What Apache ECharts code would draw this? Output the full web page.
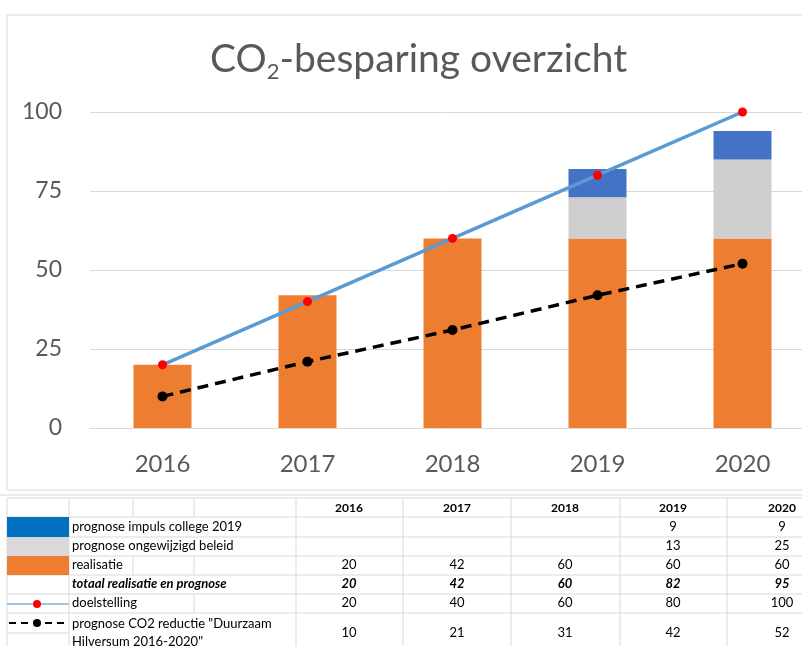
<!DOCTYPE html>
<html>
<head>
<meta charset="utf-8">
<script src="https://cdn.jsdelivr.net/npm/echarts@6/dist/echarts.min.js"></script>
<style>
    html, body { margin: 0; padding: 0; background: #fff; }
    #chart { width: 802px; height: 646px; }
</style>
</head>
<body>
<div id="chart"></div>
<script>
    // chart data
    const years = ['2016', '2017', '2018', '2019', '2020'];
    const impuls = [null, null, null, 9, 9];
    const ongewijzigd = [null, null, null, 13, 25];
    const realisatie = [20, 42, 60, 60, 60];
    const totaal = [20, 42, 60, 82, 95];
    const doelstelling = [20, 40, 60, 80, 100];
    const prognoseCO2 = [10, 21, 31, 42, 52];

    // table rows, top to bottom
    const rowLabels = [
        'prognose impuls college 2019',
        'prognose ongewijzigd beleid',
        'realisatie',
        'totaal realisatie en prognose',
        'doelstelling',
        'prognose CO2 reductie "Duurzaam\nHilversum 2016-2020"'
    ];
    const rowValues = [impuls, ongewijzigd, realisatie, totaal, doelstelling, prognoseCO2];

    const font = 'Lato, "Open Sans", sans-serif';
    const gridColor = '#D9D9D9';

    // table geometry
    const rowLines = [498, 517, 537, 556, 575, 594, 613];
    const colLines = [7, 69, 296, 403, 511, 620, 727];
    const colCenters = [349, 457, 565, 673, 782];

    function buildTable() {
        let g = [];
        // chart frame
        g.push({type: 'rect', shape: {x: 7, y: 15, width: 820, height: 475},
            style: {fill: 'none', stroke: gridColor, lineWidth: 1}, silent: true});
        // horizontal lines
        g.push({type: 'line', shape: {x1: 0, y1: 495, x2: 802, y2: 495}, style: {stroke: gridColor, lineWidth: 1}});
        rowLines.forEach(y => {
            g.push({type: 'line', shape: {x1: 7, y1: y, x2: 802, y2: y}, style: {stroke: gridColor, lineWidth: 1}});
        });
        g.push({type: 'line', shape: {x1: 7, y1: 633, x2: 69, y2: 633}, style: {stroke: gridColor, lineWidth: 1}});
        // vertical lines
        colLines.forEach(x => {
            g.push({type: 'line', shape: {x1: x, y1: 498, x2: x, y2: 646}, style: {stroke: gridColor, lineWidth: 1}});
        });
        // short separators in label area
        [[133, 498, 517], [194, 498, 517], [133, 556, 575], [194, 556, 575], [194, 594, 613]].forEach(s => {
            g.push({type: 'line', shape: {x1: s[0], y1: s[1], x2: s[0], y2: s[2]}, style: {stroke: gridColor, lineWidth: 1}});
        });
        // header years
        years.forEach((yr, i) => {
            g.push({type: 'text', x: colCenters[i], y: 508, style: {text: yr, fill: '#000',
                font: 'bold 12px ' + font, align: 'center', verticalAlign: 'middle'}});
        });
        // rows
        const rowMid = [527, 546, 565, 584, 603, 633];
        rowLabels.forEach((lab, r) => {
            const italic = r === 3;
            g.push({type: 'text', x: 72, y: rowMid[r], style: {text: lab, fill: '#000',
                font: (italic ? 'italic bold ' : '') + '13px ' + font,
                align: 'left', verticalAlign: 'middle', lineHeight: 18}});
            rowValues[r].forEach((v, i) => {
                if (v === null) return;
                g.push({type: 'text', x: colCenters[i], y: rowMid[r], style: {text: String(v), fill: '#000',
                    font: (italic ? 'italic bold ' : '') + '13px ' + font,
                    align: 'center', verticalAlign: 'middle'}});
            });
        });
        // legend keys
        g.push({type: 'rect', shape: {x: 7, y: 517, width: 62, height: 20}, style: {fill: '#0070C0'}});
        g.push({type: 'rect', shape: {x: 7, y: 537, width: 62, height: 19}, style: {fill: '#D9D9D9'}});
        g.push({type: 'rect', shape: {x: 7, y: 556, width: 62, height: 19}, style: {fill: '#ED7D31'}});
        g.push({type: 'line', shape: {x1: 7, y1: 604, x2: 69, y2: 604}, style: {stroke: '#9DC3E6', lineWidth: 2}});
        g.push({type: 'circle', shape: {cx: 37, cy: 604, r: 4}, style: {fill: '#FF0000'}});
        g.push({type: 'line', shape: {x1: 9, y1: 623, x2: 67, y2: 623}, style: {stroke: '#000', lineWidth: 2, lineDash: [7, 5]}});
        g.push({type: 'circle', shape: {cx: 37, cy: 623, r: 4}, style: {fill: '#000'}});
        return g;
    }

    const chart = echarts.init(document.getElementById('chart'));
    chart.setOption({
        animation: false,
        backgroundColor: '#fff',
        title: {
            text: '{a|CO}{b|2}{a|-besparing overzicht}',
            left: 205,
            top: 30,
            textStyle: {
                fontWeight: 'normal',
                rich: {
                    a: {fontSize: 39, fontWeight: 'normal', color: '#595959', fontFamily: font, lineHeight: 48},
                    b: {fontSize: 22, fontWeight: 'normal', color: '#595959', fontFamily: font, lineHeight: 48, verticalAlign: 'bottom'}
                }
            }
        },
        grid: {left: 90, width: 725, top: 112, bottom: 218, outerBoundsMode: 'none'},
        xAxis: {
            type: 'category',
            data: years,
            axisLine: {lineStyle: {color: gridColor, width: 1}},
            axisTick: {show: false},
            axisLabel: {color: '#595959', fontSize: 24, fontFamily: font, margin: 24}
        },
        yAxis: {
            type: 'value',
            min: 0,
            max: 100,
            interval: 25,
            axisLine: {show: false},
            axisTick: {show: false},
            splitLine: {lineStyle: {color: gridColor, width: 1}},
            axisLabel: {color: '#595959', fontSize: 23, fontFamily: font, margin: 28}
        },
        series: [
            {name: 'realisatie', type: 'bar', stack: 'co2', barWidth: 58, data: realisatie,
                itemStyle: {color: '#ED7D31'}},
            {name: 'prognose ongewijzigd beleid', type: 'bar', stack: 'co2', barWidth: 58, data: ongewijzigd,
                itemStyle: {color: '#D0CECE'}},
            {name: 'prognose impuls college 2019', type: 'bar', stack: 'co2', barWidth: 58, data: impuls,
                itemStyle: {color: '#4472C4'}},
            {name: 'doelstelling', type: 'line', data: doelstelling, z: 5,
                symbol: 'circle', symbolSize: 9, showSymbol: true,
                lineStyle: {color: '#5B9BD5', width: 3.5},
                itemStyle: {color: '#FF0000', borderWidth: 0}},
            {name: 'prognose CO2 reductie', type: 'line', data: prognoseCO2, z: 5,
                symbol: 'circle', symbolSize: 10, showSymbol: true,
                lineStyle: {color: '#000', width: 3.5, type: [11, 7]},
                itemStyle: {color: '#000', borderWidth: 0}}
        ],
        graphic: buildTable()
    });
</script>
</body>
</html>
